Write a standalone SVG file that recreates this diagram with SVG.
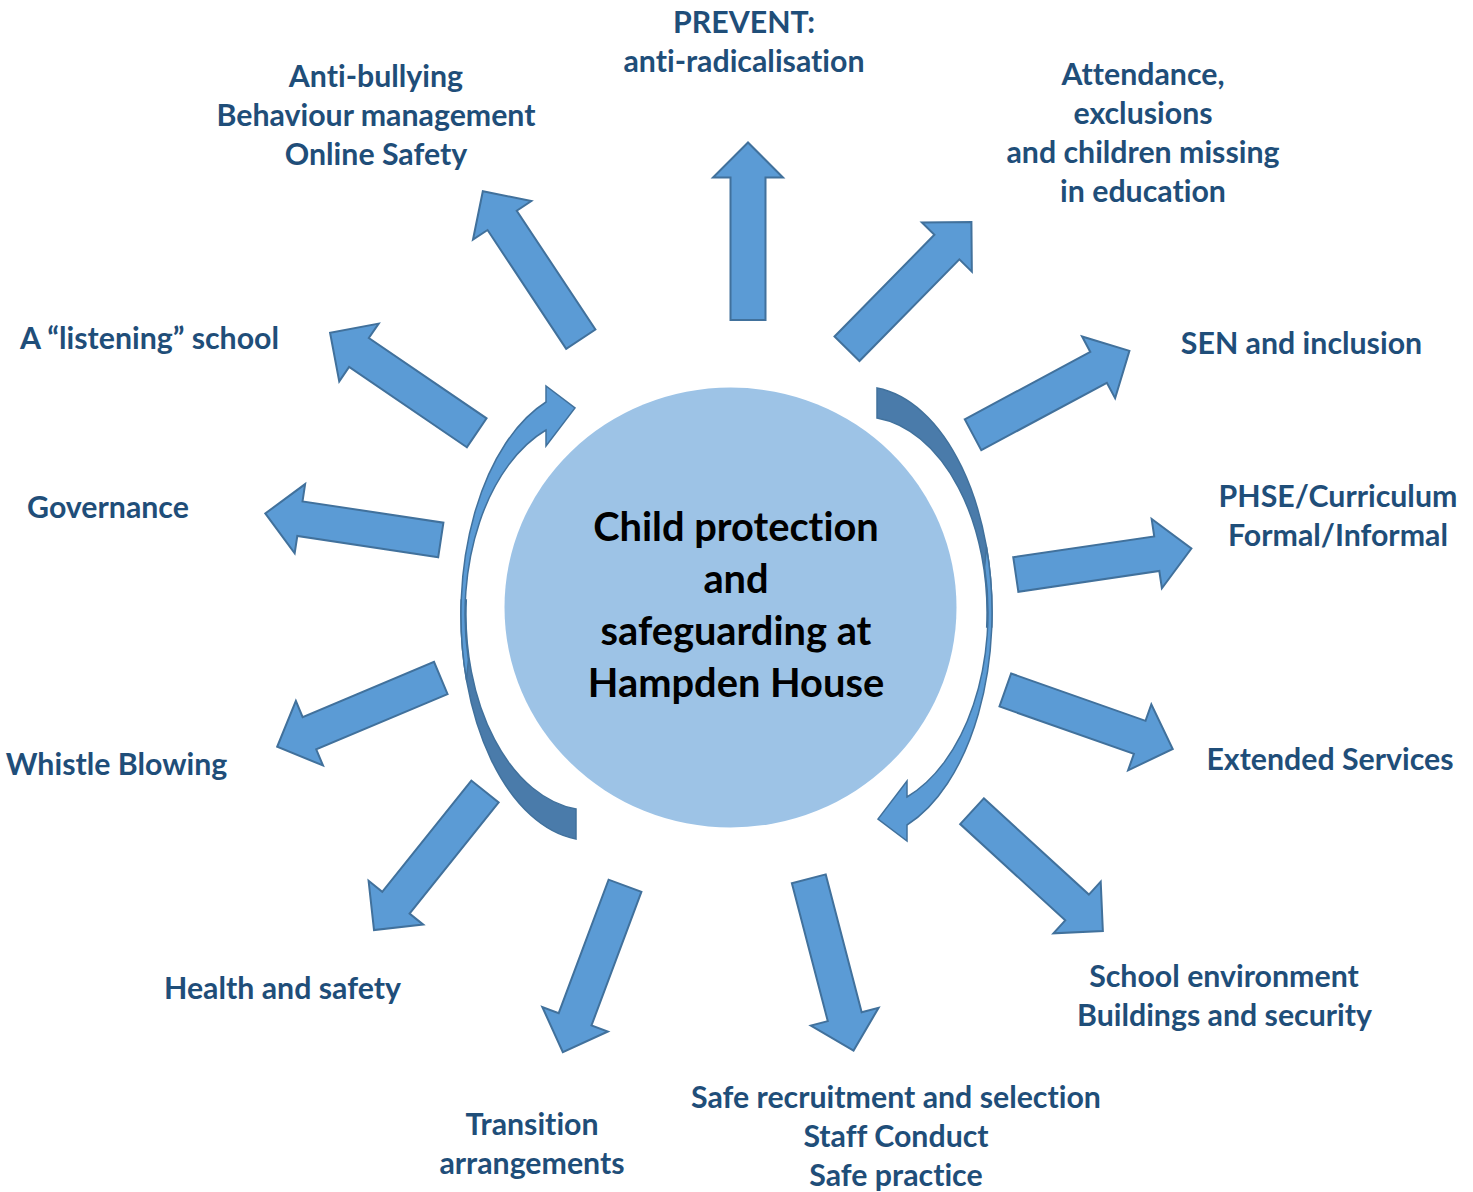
<svg xmlns="http://www.w3.org/2000/svg" xmlns:xlink="http://www.w3.org/1999/xlink" width="1473" height="1192" viewBox="0 0 1473 1192">
<style>
.lbl{font-family:Lato,"Liberation Sans",sans-serif;font-weight:bold;font-size:30.3px;fill:#1F4E79;text-anchor:middle;font-variant-ligatures:none}
.ctr{font-family:Lato,"Liberation Sans",sans-serif;font-weight:bold;font-size:39.8px;fill:#000;text-anchor:middle;font-variant-ligatures:none}
.arr{fill:#5B9BD5;stroke:#41719C;stroke-width:2;stroke-linejoin:miter}
.cl{fill:#5B9BD5;stroke:#41719C;stroke-width:1.5}
.cd{fill:#4A7BAA;stroke:#41719C;stroke-width:1.5}
</style>
<defs>
<path id="arrow" d="M0,-17.5 L142.5,-17.5 L142.5,-35 L177.5,0 L142.5,35 L142.5,17.5 L0,17.5 Z"/>
<g id="curved">
<path class="cd" d="M576,839 A129,226 0 0 1 461.2,600 L466.3,600 A124,195.8 0 0 0 576,809 Z"/>
<path class="cl" d="M466.5,680 A129,226 0 0 1 546,402 L546,386 L575,408 L546,446 L546,430 A125,197 0 0 0 468.4,660 Z"/>
</g>
</defs>
<rect width="1473" height="1192" fill="#fff"/>
<g id="connectors">
<use xlink:href="#arrow" class="arr" transform="translate(748,320) rotate(-90)"/>
<use xlink:href="#arrow" class="arr" transform="translate(847,348.7) rotate(-45.5)"/>
<use xlink:href="#arrow" class="arr" transform="translate(973,434.7) rotate(-28.2)"/>
<use xlink:href="#arrow" class="arr" transform="translate(1015.8,574.5) rotate(-8.4)"/>
<use xlink:href="#arrow" class="arr" transform="translate(1005.3,690) rotate(19.4)"/>
<use xlink:href="#arrow" class="arr" transform="translate(972,811.2) rotate(42.5)"/>
<use xlink:href="#arrow" class="arr" transform="translate(808.8,878.8) rotate(75.4)"/>
<use xlink:href="#arrow" class="arr" transform="translate(625,885.8) rotate(110.5)"/>
<use xlink:href="#arrow" class="arr" transform="translate(485,791.5) rotate(128.7)"/>
<use xlink:href="#arrow" class="arr" transform="translate(440.8,678) rotate(157.2)"/>
<use xlink:href="#arrow" class="arr" transform="translate(440.8,540) rotate(188.6)"/>
<use xlink:href="#arrow" class="arr" transform="translate(476.7,432.8) rotate(214.3)"/>
<use xlink:href="#arrow" class="arr" transform="translate(580.8,339.2) rotate(236.5)"/>
</g>
<g id="center">
<ellipse cx="730.5" cy="607.5" rx="226" ry="220" fill="#9DC3E6"/>
<text class="ctr"><tspan x="736" y="541">Child protection</tspan><tspan x="736" y="593">and</tspan><tspan x="736" y="645">safeguarding at</tspan><tspan x="736" y="697">Hampden House</tspan></text>
</g>
<g id="cycle-left"><use xlink:href="#curved"/></g>
<g id="cycle-right"><use xlink:href="#curved" transform="rotate(180 726.5 613.5)"/></g>
<g id="prevent"><text class="lbl"><tspan x="744" y="33">PREVENT:</tspan><tspan x="744" y="72">anti-radicalisation</tspan></text></g>
<g id="antibullying"><text class="lbl"><tspan x="376" y="86.5">Anti-bullying</tspan><tspan x="376" y="125.5">Behaviour management</tspan><tspan x="376" y="164.5">Online Safety</tspan></text></g>
<g id="attendance"><text class="lbl"><tspan x="1143" y="84.5">Attendance,</tspan><tspan x="1143" y="123.5">exclusions</tspan><tspan x="1143" y="162.5">and children missing</tspan><tspan x="1143" y="201.5">in education</tspan></text></g>
<g id="sen"><text class="lbl" x="1301.5" y="353.5">SEN and inclusion</text></g>
<g id="phse"><text class="lbl"><tspan x="1338" y="506.5">PHSE/Curriculum</tspan><tspan x="1338" y="545.5">Formal/Informal</tspan></text></g>
<g id="extended"><text class="lbl" x="1330" y="769.5">Extended Services</text></g>
<g id="school"><text class="lbl"><tspan x="1224" y="986.5">School environment</tspan><tspan x="1224.5" y="1025.5">Buildings and security</tspan></text></g>
<g id="recruitment"><text class="lbl"><tspan x="896" y="1107.5">Safe recruitment and selection</tspan><tspan x="896" y="1146.5">Staff Conduct</tspan><tspan x="896" y="1185.5">Safe practice</tspan></text></g>
<g id="transition"><text class="lbl"><tspan x="532" y="1134.5">Transition</tspan><tspan x="532" y="1173.5">arrangements</tspan></text></g>
<g id="health"><text class="lbl" x="282.5" y="998.5">Health and safety</text></g>
<g id="whistle"><text class="lbl" x="116.5" y="774.5">Whistle Blowing</text></g>
<g id="governance"><text class="lbl" x="108" y="517.5">Governance</text></g>
<g id="listening"><text class="lbl" x="149.5" y="348.5">A “listening” school</text></g>
</svg>
